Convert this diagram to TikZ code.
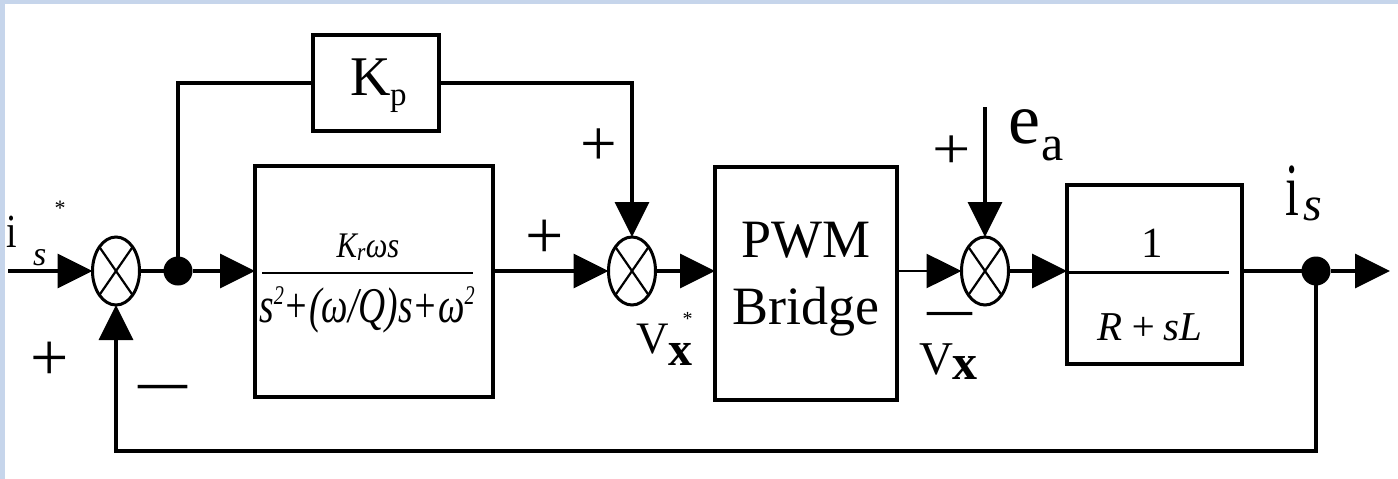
\documentclass[tikz,border=0pt]{standalone}
\usepackage{fontspec}
\setmainfont{Liberation Serif}
\usetikzlibrary{arrows.meta,shapes.geometric}
\newcommand{\fs}[1]{\fontsize{#1}{#1}\selectfont}
\newcommand{\supII}[1]{\raisebox{0.35em}{\fontsize{#1}{#1}\selectfont 2}}
\definecolor{frameblue}{HTML}{C6D5EB}
\begin{document}
\begin{tikzpicture}[x=1pt,y=-1pt,
  wire/.style={line width=3.5pt},
  arr/.style={line width=3.5pt,-{Triangle[length=35pt,width=34pt]}},
  blk/.style={draw,line width=4.5pt,inner sep=0,outer sep=0},
  sumj/.style={draw,ellipse,line width=3pt,inner sep=0,outer sep=0,
    minimum width=47pt,minimum height=68pt,
    path picture={\draw[line width=2.2pt]
      (path picture bounding box.north west) -- (path picture bounding box.south east)
      (path picture bounding box.north east) -- (path picture bounding box.south west);}},
  dotn/.style={circle,fill,inner sep=0,outer sep=0,minimum size=29pt},
  bw/.style={inner sep=0,outer sep=0,anchor=base west},
  bl/.style={inner sep=0,outer sep=0,anchor=base},
]
\useasboundingbox (0,0) rectangle (1398,479);
\fill[frameblue] (0,0) rectangle (1398,479);
\fill[white] (5,4) rectangle (1398,479);

% blocks
\node[blk,minimum width=126pt,minimum height=96pt] (kp) at (376,83) {};
\node[blk,minimum width=238pt,minimum height=231pt] (res) at (374,281.5) {};
\node[blk,minimum width=182pt,minimum height=233pt] (pwm) at (806,283.5) {};
\node[blk,minimum width=175pt,minimum height=179pt] (b3) at (1154.5,274.5) {};

% summing junctions and dots
\node[sumj] (j1) at (116,271) {};
\node[sumj] (j2) at (632,271) {};
\node[sumj] (j3) at (985,271) {};
\node[dotn] (d1) at (178,271) {};
\node[dotn] (d2) at (1316,271) {};

\coordinate (in) at (8,271);
\coordinate (ea) at (985,107);
\coordinate (out) at (1390,271);
\coordinate (fb) at (0,451);

% connectors
\draw[arr] (in) -- (j1.west);
\draw[wire] (j1.east) -- (d1);
\draw[arr] (d1) -- (d1 -| res.west);
\draw[wire] (d1.center) -- (d1.center |- kp.west) -- (kp.west);
\draw[arr] (kp.east) -- (kp.east -| j2) -- (j2.north);
\draw[arr] (res.east |- j2) -- (j2.west);
\draw[arr] (j2.east) -- (j2.east -| pwm.west);
\draw[arr,line width=2.6pt] (pwm.east |- j3) -- (j3.west);
\draw[arr] (ea) -- (j3.north);
\draw[arr] (j3.east) -- (j3.east -| b3.west);
\draw[wire] (b3.east |- d2) -- (d2);
\draw[arr] (d2) -- (out);
\draw[arr] (d2.center) -- (d2.center |- fb) -- (j1 |- fb) -- (j1.south);

% fraction bars
\draw[line width=2.2pt] (262,273) -- (473,273);
\draw[line width=3pt] (1068,272) -- (1229,272);

% labels
\node[bw,font=\fs{38}] (iin) at (6,247) {\scalebox{1}[1.25]{i}};
\node[bw,font=\fs{34}\itshape] (sin) at (33,265) {s};
\node[bl,font=\fs{22}] (stin) at (60,215) {*};

\node[bw,font=\fs{56}] (kK) at (350,95) {K};
\node[bw,font=\fs{33}] (kpp) at (390,105) {p};

\node[bl,font=\fs{36}\itshape] (num) at (368,257) {\scalebox{0.85}[1]{K\textsubscript{r}ωs}};
\node[bl,font=\fs{50}\itshape] (den) at (367,322) {\scalebox{0.75}[1]{s\supII{27}+(ω/Q)s+ω\supII{27}}};

\node[bl,font=\fs{68}] (p1) at (544.5,258) {+};
\node[bl,font=\fs{65}] (p2) at (599,165) {+};

\node[bl,font=\fs{54}] (tpwm) at (806,257) {PWM};
\node[bl,font=\fs{54}] (tbr) at (806,324) {Bridge};

\node[bw,font=\fs{45}] (vxs) at (636,353) {V\raisebox{-12pt}{\fs{48}\bfseries x}\hspace{-10pt}\raisebox{28pt}{\fs{20}*}};

\node[bl,font=\fs{45}\bfseries] (m3) at (949.5,324) {—};
\node[bw,font=\fs{47}] (vx) at (919,374) {V\raisebox{-5pt}{\fs{50}\bfseries x}};

\node[bl,font=\fs{68}] (p3) at (952,168) {\scalebox{1}[0.85]{+}};
\node[bw,font=\fs{72}] (te) at (1008,143) {e};
\node[bw,font=\fs{50}] (ta) at (1041,160) {a};

\node[bl,font=\fs{43}] (one) at (1152,257) {1};
\node[bl,font=\fs{41}\itshape] (rsl) at (1150,340) {R\,+\,sL};

\node[bw,font=\fs{50}] (iout) at (1285,215) {\scalebox{1}[1.5]{i}};
\node[bw,font=\fs{48}\itshape] (sout) at (1303,220) {s};

\node[bl,font=\fs{68}] (p4) at (49.5,380) {+};
\node[bl,font=\fs{49}\bfseries] (m1) at (162.5,398) {—};
\end{tikzpicture}
\end{document}
